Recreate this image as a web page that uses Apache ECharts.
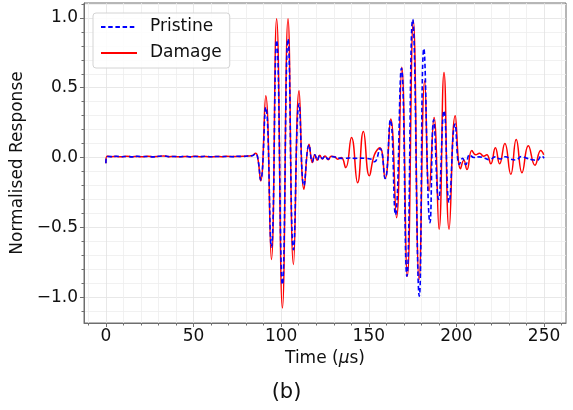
<!DOCTYPE html>
<html><head><meta charset="utf-8">
<script src="https://cdn.jsdelivr.net/npm/echarts@6/dist/echarts.min.js"></script>
<style>html,body{margin:0;padding:0;background:#fff}#c{width:573px;height:410px}</style>
</head><body><div id="c"></div>
<script>
// ---- data ----
const seriesNames = ['Pristine', 'Damage'];
const damageT = [0, 0.6, 3, 6, 9, 12, 15, 18, 21, 24, 27, 30, 33, 36, 39, 42, 45, 48, 51, 54, 57, 60, 63, 66, 69, 72, 75, 78, 81, 83.5, 85.4, 86.6, 88.3, 91.2, 94.4, 97.4, 100.7, 103.9, 107.0, 110.2, 113.0, 115.9, 117.8, 119.2, 120.6, 122.0, 123.5, 125.0, 126.8, 128.6, 130.5, 132.3, 134.3, 136.8, 140.1, 143.6, 146.9, 150.3, 153.2, 156.3, 159.3, 162.5, 165.8, 168.8, 172.0, 175.4, 178.7, 181.9, 184.4, 187.2, 190.1, 192.9, 195.8, 199.3, 202.3, 204.2, 206.0, 208.8, 211.0, 213.2, 215.5, 217.3, 219.6, 222.2, 224.6, 227.6, 231.0, 234.1, 237.4, 241.0, 244.8, 248.1, 249.8];
const damageY = [-0.04, 0.01, 0.006, 0.008, 0.005, 0.009, 0.006, 0.008, 0.005, 0.009, 0.006, 0.008, 0.012, 0.006, 0.008, 0.005, 0.008, 0.006, 0.009, 0.006, 0.008, 0.005, 0.008, 0.006, 0.009, 0.007, 0.008, 0.009, 0.011, 0.014, 0.03, 0.0, -0.167, 0.443, -0.73, 0.994, -1.078, 0.994, -0.766, 0.479, -0.227, 0.096, -0.036, 0.02, -0.02, 0.016, -0.01, 0.012, -0.016, 0.01, 0.006, -0.012, 0.0, -0.072, 0.144, -0.18, 0.187, -0.13, 0.02, 0.07, -0.15, 0.276, -0.431, 0.647, -0.85, 0.98, -0.874, 0.551, -0.24, 0.287, -0.514, 0.61, -0.514, 0.3, -0.08, -0.02, -0.085, 0.05, 0.02, 0.03, 0.01, 0.02, -0.045, 0.07, -0.045, 0.1, -0.12, 0.13, -0.108, 0.085, -0.055, 0.05, 0.02];
const pristineT = [0, 0.6, 3, 6, 9, 12, 15, 18, 21, 24, 27, 30, 33, 36, 39, 42, 45, 48, 51, 54, 57, 60, 63, 66, 69, 72, 75, 78, 81, 83.5, 85.4, 86.6, 88.3, 91.2, 94.4, 97.4, 100.7, 103.9, 107.0, 110.2, 113.0, 115.9, 117.8, 119.2, 120.6, 122.0, 123.5, 125.0, 126.8, 128.6, 130.5, 133, 136, 139, 142, 145, 148, 151, 153.2, 156.4, 159.3, 162.3, 165.2, 168.6, 171.7, 175.0, 178.8, 181.4, 184.9, 187.0, 189.8, 192.9, 195.8, 199.2, 201.7, 203.5, 205.3, 207.5, 210, 213, 216, 219, 222, 225, 228, 231, 234, 237, 240, 243, 246, 248.5, 250];
const pristineY = [-0.04, 0.008, 0.007, 0.009, 0.006, 0.008, 0.005, 0.009, 0.007, 0.008, 0.005, 0.009, 0.011, 0.007, 0.008, 0.006, 0.009, 0.005, 0.008, 0.007, 0.009, 0.006, 0.008, 0.007, 0.008, 0.006, 0.009, 0.008, 0.011, 0.013, 0.028, 0.0, -0.16, 0.36, -0.64, 0.84, -0.91, 0.85, -0.66, 0.385, -0.2, 0.09, -0.03, 0.02, -0.018, 0.014, -0.008, 0.01, -0.012, 0.008, 0.004, -0.004, -0.006, -0.003, -0.006, -0.004, -0.006, -0.01, -0.03, 0.065, -0.15, 0.27, -0.41, 0.64, -0.85, 0.99, -0.993, 0.78, -0.467, 0.27, -0.3, 0.335, -0.32, 0.24, -0.05, -0.005, -0.05, 0.02, 0.0, 0.005, -0.005, -0.015, 0.005, -0.01, 0.006, -0.012, -0.018, 0.008, -0.004, -0.015, -0.02, 0.012, -0.005];
const xMajorTicks = [0, 50, 100, 150, 200, 250];
const yMajorTicks = [-1.0, -0.5, 0.0, 0.5, 1.0];
const xMinorTicks = [];
for (let v = -10; v <= 260; v += 10) if (v % 50 !== 0) xMinorTicks.push(v);
const yMinorTicks = [];
for (let k = -11; k <= 11; k++) if (k % 5 !== 0) yMinorTicks.push(Math.round(k) / 10);

const xRange = [-12.5, 262.5];
const yRange = [-1.185, 1.107];

const pairs = (t, y) => t.map((v, i) => [v, y[i]]);
const FONT = 'DejaVu Sans';
const TXT = '#111';
const AX = '#6e6e6e';
const minus = s => String(s).replace('-', '\u2212');

const chart = echarts.init(document.getElementById('c'), null, {renderer: 'canvas'});
chart.setOption({
  animation: false,
  backgroundColor: '#fff',
  title: {
    text: '(b)', left: 'center', top: 377,
    textStyle: {fontFamily: FONT, fontSize: 21, fontWeight: 'normal', color: TXT}
  },
  grid: {left: 84, top: 3, width: 482, height: 320, show: true, borderColor: AX, borderWidth: 1, backgroundColor: '#fff'},
  legend: {
    data: seriesNames, orient: 'vertical', left: 93, top: 13,
    padding: [4, 8, 5, 7], itemGap: 6, itemWidth: 36, itemHeight: 14,
    itemStyle: {opacity: 0},
    backgroundColor: 'rgba(255,255,255,0.85)', borderColor: '#d4d4d4', borderWidth: 1, borderRadius: 3,
    textStyle: {fontFamily: FONT, fontSize: 17, color: TXT, lineHeight: 20, padding: [0, 0, 0, 8]}
  },
  xAxis: [{
    type: 'value', gridIndex: 0, min: xRange[0], max: xRange[1],
    name: 'Time ({i|\u03bc}s)', nameLocation: 'middle', nameGap: 24,
    nameTextStyle: {fontFamily: FONT, fontSize: 17, color: TXT,
      rich: {i: {fontFamily: FONT, fontSize: 17, fontStyle: 'italic', color: TXT}}},
    axisLine: {show: true, onZero: false, lineStyle: {color: AX, width: 1}},
    axisTick: {show: true, customValues: xMajorTicks, length: 4, lineStyle: {color: AX}},
    axisLabel: {customValues: xMajorTicks, fontFamily: FONT, fontSize: 17, color: TXT, margin: 5, formatter: v => minus(v)},
    splitLine: {show: true, lineStyle: {color: '#e2e2e2', width: 0.8}}
  }, {
    type: 'value', gridIndex: 0, min: xRange[0], max: xRange[1], position: 'bottom',
    axisLine: {show: false, onZero: false},
    axisTick: {show: true, customValues: xMinorTicks, length: 2.5, lineStyle: {color: AX}},
    axisLabel: {show: false},
    splitLine: {show: true, lineStyle: {color: '#eeeeee', width: 0.8}}
  }],
  yAxis: [{
    type: 'value', gridIndex: 0, min: yRange[0], max: yRange[1],
    name: 'Normalised Response', nameLocation: 'middle', nameGap: 52,
    nameTextStyle: {fontFamily: FONT, fontSize: 17, color: TXT},
    axisLine: {show: true, onZero: false, lineStyle: {color: AX, width: 1}},
    axisTick: {show: true, customValues: yMajorTicks, length: 4, lineStyle: {color: AX}},
    axisLabel: {customValues: yMajorTicks, fontFamily: FONT, fontSize: 17, color: TXT, margin: 6, formatter: v => minus(v.toFixed(1))},
    splitLine: {show: true, lineStyle: {color: '#e2e2e2', width: 0.8}}
  }, {
    type: 'value', gridIndex: 0, min: yRange[0], max: yRange[1], position: 'left',
    axisLine: {show: false, onZero: false},
    axisTick: {show: true, customValues: yMinorTicks, length: 2.5, lineStyle: {color: AX}},
    axisLabel: {show: false},
    splitLine: {show: true, lineStyle: {color: '#eeeeee', width: 0.8}}
  }],
  series: [{
    name: 'Damage', type: 'line', xAxisIndex: 0, yAxisIndex: 0,
    data: pairs(damageT, damageY), smooth: 0.5, symbol: 'none', z: 3,
    lineStyle: {color: '#ff0000', width: 1.5}, itemStyle: {color: '#ff0000'}
  }, {
    name: 'Pristine', type: 'line', xAxisIndex: 0, yAxisIndex: 0,
    data: pairs(pristineT, pristineY), smooth: 0.5, symbol: 'none', z: 4,
    lineStyle: {color: '#0000ff', width: 1.6, type: [4.5, 2.7]}, itemStyle: {color: '#0000ff'}
  }]
});
</script></body></html>
